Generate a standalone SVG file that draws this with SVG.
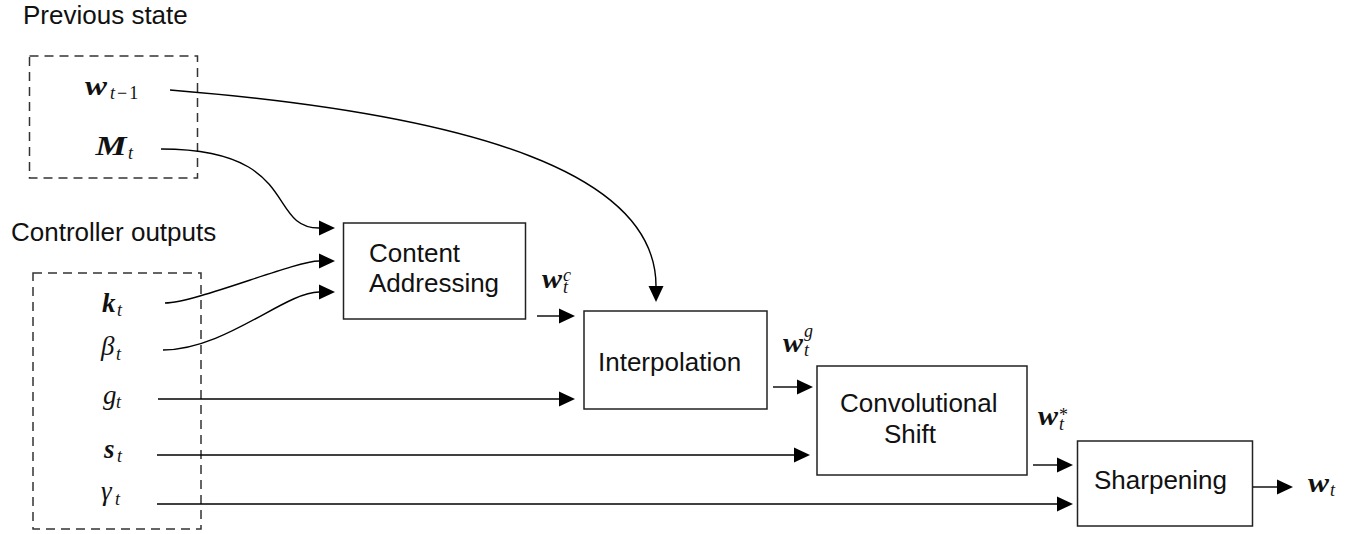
<svg xmlns="http://www.w3.org/2000/svg" width="1367" height="534" viewBox="0 0 1367 534">
  <style>
    .lbl { font-family: "Liberation Sans", Arial, sans-serif; font-size: 26px; fill: #111; }
    .box { fill: #fff; stroke: #222; stroke-width: 1.5; }
    .grp { fill: none; stroke: #333; stroke-width: 1.5; stroke-dasharray: 9 6; }
    .wire { fill: none; stroke: #000; stroke-width: 1.4; }
    .mb { font-family: "Liberation Serif", "Times New Roman", serif; font-style: italic; font-weight: bold; font-size: 27px; fill: #111; }
    .mi { font-family: "Liberation Serif", "Times New Roman", serif; font-style: italic; font-weight: normal; font-size: 27px; fill: #111; }
    .sub { font-family: "Liberation Serif", "Times New Roman", serif; font-style: italic; font-weight: normal; font-size: 18px; }
    .up { font-style: normal; }
  </style>
  <defs>
    <marker id="ah" markerUnits="userSpaceOnUse" markerWidth="17" markerHeight="16" refX="0" refY="7.5" orient="auto" overflow="visible">
      <path d="M0,0 L16,7.5 L0,15 z" fill="#000"/>
    </marker>
  </defs>

  <!-- group captions -->
  <text class="lbl" x="23" y="24">Previous state</text>
  <text class="lbl" x="11" y="240.5">Controller outputs</text>

  <!-- previous state group -->
  <g id="previous-state">
    <rect class="grp" x="29.5" y="56" width="168" height="122"/>
    <g id="w-prev">
      <text class="mb" x="85" y="94.5"><tspan textLength="22" lengthAdjust="spacingAndGlyphs">w</tspan><tspan class="sub" x="110" y="98.5">t<tspan class="up" dx="2">−</tspan><tspan class="up" dx="2">1</tspan></tspan></text>
    </g>
    <g id="memory">
      <text class="mb" x="95.5" y="155"><tspan textLength="31" lengthAdjust="spacingAndGlyphs">M</tspan><tspan class="sub" x="128" y="159">t</tspan></text>
    </g>
  </g>

  <!-- controller outputs group -->
  <g id="controller-outputs">
    <rect class="grp" x="33" y="273" width="168" height="256"/>
    <g id="key"><text class="mb" x="102" y="311.5">k<tspan class="sub" x="117" y="315.5">t</tspan></text></g>
    <g id="beta"><text class="mi" x="101" y="355">β<tspan class="sub" x="116" y="359.5">t</tspan></text></g>
    <g id="gate"><text class="mi" x="103" y="404">g<tspan class="sub" x="116" y="408">t</tspan></text></g>
    <g id="shift"><text class="mb" x="104" y="457.5">s<tspan class="sub" x="117" y="461.5">t</tspan></text></g>
    <g id="gamma"><text class="mi" x="101" y="500">γ<tspan class="sub" x="115" y="505">t</tspan></text></g>
  </g>

  <!-- processing stages -->
  <g id="content-addressing">
    <rect class="box" x="343.5" y="223" width="182" height="96"/>
    <text class="lbl" x="369" y="261.5">Content</text>
    <text class="lbl" x="369" y="292">Addressing</text>
  </g>
  <g id="interpolation">
    <rect class="box" x="584" y="311" width="183" height="98"/>
    <text class="lbl" x="598" y="370.5">Interpolation</text>
  </g>
  <g id="convolutional-shift">
    <rect class="box" x="817" y="366" width="210" height="109"/>
    <text class="lbl" x="840" y="411.5">Convolutional</text>
    <text class="lbl" x="884" y="443">Shift</text>
  </g>
  <g id="sharpening">
    <rect class="box" x="1077.5" y="441" width="175" height="85"/>
    <text class="lbl" x="1094" y="488.5">Sharpening</text>
  </g>

  <!-- intermediate weightings -->
  <g id="w-content"><text class="mb" x="542" y="288"><tspan textLength="20" lengthAdjust="spacingAndGlyphs">w</tspan><tspan class="sub" x="563" y="280.5">c</tspan><tspan class="sub" x="563" y="293">t</tspan></text></g>
  <g id="w-gated"><text class="mb" x="783" y="352"><tspan textLength="20" lengthAdjust="spacingAndGlyphs">w</tspan><tspan class="sub" x="804" y="337">g</tspan><tspan class="sub" x="804" y="356">t</tspan></text></g>
  <g id="w-shifted"><text class="mb" x="1038" y="425"><tspan textLength="20" lengthAdjust="spacingAndGlyphs">w</tspan><tspan class="sub up" x="1059" y="420.5">*</tspan><tspan class="sub" x="1059" y="430">t</tspan></text></g>
  <g id="w-out"><text class="mb" x="1308" y="492"><tspan textLength="21" lengthAdjust="spacingAndGlyphs">w</tspan><tspan class="sub" x="1330" y="495.5">t</tspan></text></g>

  <!-- connectors -->
  <g id="connectors">
    <path class="wire" d="M170,90 C480,115 656,175 656,286" marker-end="url(#ah)"/>
    <path class="wire" d="M161,149 C301,149 266,228 319,228" marker-end="url(#ah)"/>
    <path class="wire" d="M165,303 C195,303 295,261 319,261" marker-end="url(#ah)"/>
    <path class="wire" d="M163,350 C225,350 285,292 319,292" marker-end="url(#ah)"/>
    <path class="wire" d="M158,399 H559" marker-end="url(#ah)"/>
    <path class="wire" d="M157,455 H794" marker-end="url(#ah)"/>
    <path class="wire" d="M157,504 H1057" marker-end="url(#ah)"/>
    <path class="wire" d="M537,316 H559" marker-end="url(#ah)"/>
    <path class="wire" d="M773,387 H797" marker-end="url(#ah)"/>
    <path class="wire" d="M1033,465 H1057" marker-end="url(#ah)"/>
    <path class="wire" d="M1253,487 H1277" marker-end="url(#ah)"/>
  </g>
</svg>
